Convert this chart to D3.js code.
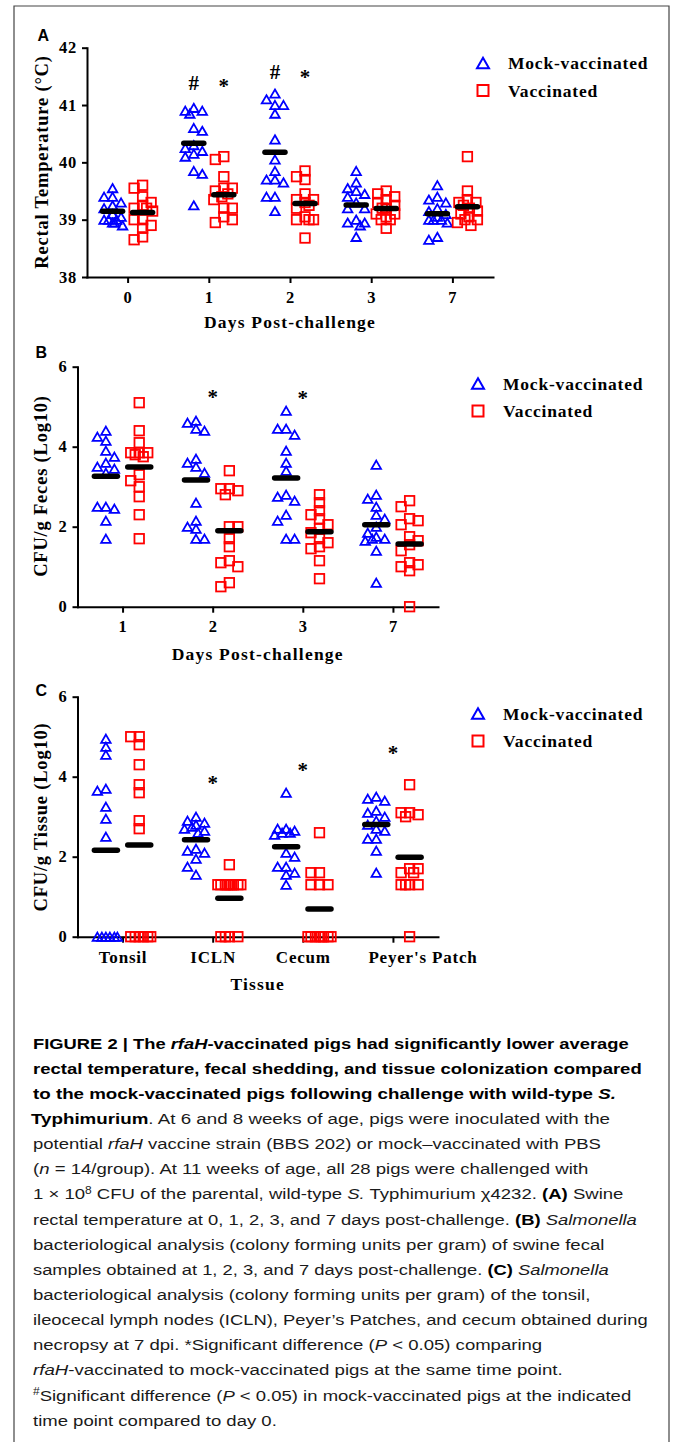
<!DOCTYPE html>
<html>
<head>
<meta charset="utf-8">
<script src="https://cdn.jsdelivr.net/npm/d3@7"></script>
<style>
  body { margin: 0; background: #fff; }
  svg { display: block; }
</style>
</head>
<body>
<svg id="fig" width="673" height="1442"></svg>
<script>
// ============ 数据 ============
// A: rectal temperature (°C), 14 pigs per group
const daysA = ['0', '1', '2', '3', '7'];
const tempTicks = [38, 39, 40, 41, 42];
const tempMock = [
  [39.55, 39.4, 39.4, 39.3, 39.25, 39.2, 39.1, 39.05, 39.0, 39.0, 38.95, 38.95, 38.9, 39.0],
  [40.95, 40.9, 40.9, 40.85, 40.55, 40.6, 40.3, 40.25, 40.2, 40.15, 40.1, 39.85, 39.8, 39.25],
  [41.2, 41.1, 41.0, 41.0, 40.85, 40.4, 40.05, 39.85, 39.7, 39.65, 39.7, 39.4, 39.4, 39.15],
  [39.85, 39.65, 39.55, 39.5, 39.45, 39.4, 39.3, 39.2, 39.2, 39.0, 38.95, 38.9, 38.95, 38.7],
  [39.6, 39.4, 39.35, 39.3, 39.2, 39.15, 39.1, 39.05, 39.0, 39.0, 39.0, 38.95, 38.7, 38.65]
];
const tempVacc = [
  [39.6, 39.55, 39.4, 39.3, 39.25, 39.2, 39.2, 39.15, 39.0, 39.0, 38.9, 38.85, 38.7, 38.65],
  [40.1, 40.05, 39.75, 39.55, 39.55, 39.5, 39.45, 39.4, 39.35, 39.2, 39.2, 39.05, 39.0, 38.95],
  [39.85, 39.75, 39.7, 39.45, 39.35, 39.35, 39.3, 39.25, 39.2, 39.0, 39.0, 39.0, 39.05, 38.68],
  [39.5, 39.45, 39.4, 39.35, 39.3, 39.25, 39.2, 39.2, 39.1, 39.1, 39.05, 39.0, 39.0, 38.85],
  [40.1, 39.5, 39.35, 39.3, 39.3, 39.25, 39.2, 39.15, 39.1, 39.05, 39.0, 39.0, 38.95, 38.9]
];
const sigA = [
  { cat: '1', side: -1, mark: '#', v: 41.39 },
  { cat: '1', side: 1, mark: '*', v: 41.39 },
  { cat: '2', side: -1, mark: '#', v: 41.58 },
  { cat: '2', side: 1, mark: '*', v: 41.55 }
];

// B: CFU/g feces (log10)
const daysB = ['1', '2', '3', '7'];
const logTicks = [0, 2, 4, 6];
const fecesMock = [
  [4.4, 4.25, 4.15, 3.9, 3.75, 3.6, 3.5, 3.35, 3.45, 2.5, 2.45, 2.5, 2.15, 1.7],
  [4.65, 4.6, 4.45, 4.4, 3.6, 3.7, 3.5, 3.35, 2.6, 2.15, 2.0, 1.95, 1.7, 1.7],
  [4.9, 4.45, 4.45, 4.3, 3.9, 3.6, 3.4, 2.8, 2.65, 2.75, 2.3, 2.15, 1.7, 1.7],
  [3.55, 2.8, 2.7, 2.5, 2.3, 2.2, 2.0, 1.85, 1.75, 1.7, 1.7, 1.65, 1.4, 0.6]
];
const fecesVacc = [
  [5.1, 4.4, 4.1, 3.85, 3.85, 3.85, 3.75, 3.8, 3.3, 3.15, 3.0, 2.75, 2.3, 1.7],
  [3.4, 2.95, 2.95, 2.8, 2.9, 2.0, 2.0, 1.7, 1.5, 1.1, 1.0, 1.15, 0.6, 0.5],
  [2.8, 2.6, 2.4, 2.3, 2.2, 2.05, 1.95, 1.85, 1.7, 1.6, 1.5, 1.45, 1.15, 0.7],
  [2.65, 2.5, 2.2, 2.15, 2.05, 1.75, 1.65, 1.55, 1.4, 1.1, 1.05, 1.0, 0.9, 0.0]
];
const sigB = [
  { cat: '2', side: 0, mark: '*', v: 5.33 },
  { cat: '3', side: 0, mark: '*', v: 5.29 }
];

// C: CFU/g tissue (log10)
const tissues = ['Tonsil', 'ICLN', 'Cecum', "Peyer's Patch"];
const tissueMock = [
  [4.95, 4.75, 4.55, 3.7, 3.65, 3.25, 2.95, 2.5, 0, 0, 0, 0, 0, 0],
  [3.0, 2.9, 2.85, 2.8, 2.75, 2.7, 2.65, 2.6, 2.2, 2.15, 2.1, 1.95, 1.75, 1.55],
  [3.6, 2.7, 2.7, 2.65, 2.6, 2.6, 2.55, 2.1, 2.0, 1.75, 1.75, 1.6, 1.55, 1.3],
  [3.5, 3.45, 3.4, 3.15, 3.1, 3.0, 2.9, 2.8, 2.7, 2.65, 2.45, 2.45, 2.15, 1.6]
];
const tissueVacc = [
  [5.0, 5.0, 4.8, 4.3, 3.8, 3.6, 2.9, 2.7, 0, 0, 0, 0, 0, 0],
  [1.8, 1.3, 1.3, 1.3, 1.3, 1.3, 1.3, 1.3, 1.3, 1.3, 0, 0, 0, 0],
  [2.6, 1.6, 1.6, 1.3, 1.3, 1.3, 0, 0, 0, 0, 0, 0, 0, 0],
  [3.8, 3.1, 3.1, 3.05, 3.0, 1.7, 1.7, 1.6, 1.6, 1.3, 1.3, 1.3, 1.3, 0]
];
const sigC = [
  { cat: 'ICLN', side: 0, mark: '*', v: 3.92 },
  { cat: 'Cecum', side: 0, mark: '*', v: 4.25 },
  { cat: "Peyer's Patch", side: 0, mark: '*', v: 4.67 }
];

const seriesNames = ['Mock-vaccinated', 'Vaccinated'];

// 图注文字（每行若干片段：[文字, 样式]）
const captionLines = [
  [['FIGURE 2 | The ', 'b'], ['rfaH', 'bi'], ['-vaccinated pigs had significantly lower average', 'b']],
  [['rectal temperature, fecal shedding, and tissue colonization compared', 'b']],
  [['to the mock-vaccinated pigs following challenge with wild-type ', 'b'], ['S.', 'bi']],
  [['Typhimurium', 'b'], ['. At 6 and 8 weeks of age, pigs were inoculated with the', '']],
  [['potential ', ''], ['rfaH', 'i'], [' vaccine strain (BBS 202) or mock\u2013vaccinated with PBS', '']],
  [['(', ''], ['n', 'i'], [' = 14/group). At 11 weeks of age, all 28 pigs were challenged with', '']],
  [['1 \u00d7 10', ''], ['8', 'sup'], [' CFU of the parental, wild-type ', ''], ['S.', 'i'], [' Typhimurium \u03c74232. ', ''], ['(A)', 'b'], [' Swine', '']],
  [['rectal temperature at 0, 1, 2, 3, and 7 days post-challenge. ', ''], ['(B)', 'b'], [' ', ''], ['Salmonella', 'i']],
  [['bacteriological analysis (colony forming units per gram) of swine fecal', '']],
  [['samples obtained at 1, 2, 3, and 7 days post-challenge. ', ''], ['(C)', 'b'], [' ', ''], ['Salmonella', 'i']],
  [['bacteriological analysis (colony forming units per gram) of the tonsil,', '']],
  [['ileocecal lymph nodes (ICLN), Peyer\u2019s Patches, and cecum obtained during', '']],
  [['necropsy at 7 dpi. *Significant difference (', ''], ['P', 'i'], [' < 0.05) comparing', '']],
  [['rfaH', 'i'], ['-vaccinated to mock-vaccinated pigs at the same time point.', '']],
  [['#', 'sup'], ['Significant difference (', ''], ['P', 'i'], [' < 0.05) in mock-vaccinated pigs at the indicated', '']],
  [['time point compared to day 0.', '']]
];

// ============ 样式常量 ============
const BLUE = '#0000ff';
const RED = '#ff0000';
const SERIF = "'Liberation Serif', 'Times New Roman', serif";
const SANS = "'Liberation Sans', Arial, sans-serif";

const svg = d3.select('#fig');
svg.append('rect').attr('width', 673).attr('height', 1442).attr('fill', '#fff');

// 外框
svg.append('path')
  .attr('d', 'M14,1442V6H669V1442')
  .attr('fill', 'none')
  .attr('stroke', '#444')
  .attr('stroke-width', 1.2);

// ============ 标记符号 ============
function triPath(s) {
  const h = s * 0.866;
  return `M0,${-h / 2}L${s / 2},${h / 2}L${-s / 2},${h / 2}Z`;
}
function drawMarker(g, kind, cx, cy, s) {
  if (kind === 0) {
    g.append('path')
      .attr('d', triPath(s))
      .attr('transform', `translate(${cx},${cy})`)
      .attr('fill', 'none').attr('stroke', BLUE).attr('stroke-width', 1.8)
      .attr('stroke-linejoin', 'miter');
  } else {
    g.append('rect')
      .attr('x', cx - s / 2).attr('y', cy - s / 2)
      .attr('width', s).attr('height', s)
      .attr('fill', 'none').attr('stroke', RED).attr('stroke-width', 1.8);
  }
}

// 简单的蜂群布局：按像素位置把重叠点横向错开
function swarm(ys, maxOff) {
  const GX = 8.5, GY = 8;
  const placed = [];
  const res = new Array(ys.length);
  const order = d3.range(ys.length).sort((a, b) => ys[a] - ys[b]);
  order.forEach(i => {
    const yv = ys[i];
    const neg = placed.filter(q => q.x < 0).length;
    const pos = placed.filter(q => q.x > 0).length;
    const sides = neg <= pos ? [-1, 1] : [1, -1];
    let best = 0, bestScore = -Infinity, done = false;
    for (let k = 0; k <= maxOff * 2 && !done; k++) {
      const m = k / 2;
      const cands = m === 0 ? [0] : sides.map(s => s * m);
      for (const dx of cands) {
        let minD = Infinity;
        placed.forEach(q => {
          if (Math.abs(q.y - yv) >= GY) return;
          minD = Math.min(minD, Math.abs(q.x - dx));
        });
        if (minD >= GX) { best = dx; done = true; break; }
        if (minD > bestScore) { bestScore = minD; best = dx; }
      }
    }
    res[i] = best;
    placed.push({ x: best, y: yv });
  });
  return res;
}

// ============ 面板绘制 ============
function drawPanel(p) {
  const g = svg.append('g');
  const x = d3.scalePoint().domain(p.cats).range([p.x0, p.x1]).padding(0.5);
  const y = d3.scaleLinear().domain(p.domain).range([p.yBottom, p.yTop]);
  const off = x.step() * 0.185;

  // 坐标轴
  const ya = g.append('g')
    .attr('transform', `translate(${p.x0},0)`)
    .call(d3.axisLeft(y).tickValues(p.ticks).tickFormat(d3.format('d'))
      .tickSize(5).tickSizeOuter(0).tickPadding(5));
  const xa = g.append('g')
    .attr('transform', `translate(0,${p.yBottom})`)
    .call(d3.axisBottom(x).tickSize(6).tickSizeOuter(0));

  [ya, xa].forEach(a => {
    a.select('.domain').attr('stroke', '#000').attr('stroke-width', 2).attr('stroke-linecap', 'square');
    a.selectAll('.tick line').attr('stroke', '#000').attr('stroke-width', 2);
    a.selectAll('.tick text')
      .attr('fill', '#000')
      .style('font-family', SERIF)
      .style('font-weight', 'bold')
      .style('font-size', '16.5px')
      .attr('letter-spacing', 0.8);
  });
  xa.selectAll('.tick text')
    .attr('y', p.tickLabelY).attr('dy', 0)
    .style('font-size', p.xTickSize + 'px');
  if (p.lastLabelShift) {
    xa.selectAll('.tick text').filter((d, i, n) => i === n.length - 1)
      .attr('text-anchor', 'start').attr('x', p.lastLabelShift);
  }

  // 散点
  [p.mock, p.vacc].forEach((series, k) => {
    const mg = g.append('g');
    series.forEach((vals, i) => {
      const cx = x(p.cats[i]) + (k === 0 ? -off : off);
      const ys = vals.map(v => y(v));
      const dxs = swarm(ys, p.spread);
      ys.forEach((yy, j) => drawMarker(mg, k, cx + dxs[j], yy, 9.5));
    });
  });

  // 均值横线
  [p.mock, p.vacc].forEach((series, k) => {
    series.forEach((vals, i) => {
      const cx = x(p.cats[i]) + (k === 0 ? -off : off);
      const my = y(d3.mean(vals));
      g.append('line')
        .attr('x1', cx - p.barLen / 2).attr('x2', cx + p.barLen / 2)
        .attr('y1', my).attr('y2', my)
        .attr('stroke', '#000').attr('stroke-width', 5.5).attr('stroke-linecap', 'round');
    });
  });

  // 显著性标记
  p.sig.forEach(s => {
    const fs = 21;
    const cx = x(s.cat) + s.side * off;
    const k = s.mark === '*' ? 0.49 : 0.34;
    g.append('text')
      .attr('x', cx).attr('y', y(s.v) + k * fs)
      .attr('text-anchor', 'middle')
      .style('font-family', SERIF).style('font-weight', 'bold').style('font-size', fs + 'px')
      .text(s.mark);
  });

  // 轴标题
  g.append('text')
    .attr('x', (p.x0 + p.x1) / 2).attr('y', p.xTitleY)
    .attr('text-anchor', 'middle')
    .attr('letter-spacing', 1.2)
    .style('font-family', SERIF).style('font-weight', 'bold').style('font-size', '17.5px')
    .text(p.xTitle);
  g.append('text')
    .attr('transform', `translate(${p.yTitleX},${p.yTitleCy}) rotate(-90)`)
    .attr('text-anchor', 'middle')
    .attr('letter-spacing', 0.8)
    .style('font-family', SERIF).style('font-weight', 'bold').style('font-size', '18.5px')
    .text(p.yTitle);

  // 面板字母
  g.append('text')
    .attr('x', p.letterX).attr('y', p.letterY)
    .style('font-family', SANS).style('font-weight', 'bold').style('font-size', '16px')
    .text(p.letter);

  // 图例
  seriesNames.forEach((name, k) => {
    const ly = p.legendY + k * 27.5;
    const lg = g.append('g');
    if (k === 0) {
      lg.append('path').attr('d', triPath(12)).attr('transform', `translate(${p.legendX},${ly})`)
        .attr('fill', 'none').attr('stroke', BLUE).attr('stroke-width', 2);
    } else {
      lg.append('rect').attr('x', p.legendX - 5.5).attr('y', ly - 5.5).attr('width', 11).attr('height', 11)
        .attr('fill', 'none').attr('stroke', RED).attr('stroke-width', 2);
    }
    lg.append('text')
      .attr('x', p.legendX + 25).attr('y', ly + 6)
      .attr('letter-spacing', 0.8)
      .style('font-family', SERIF).style('font-weight', 'bold').style('font-size', '17.5px')
      .text(name);
  });
}

drawPanel({
  letter: 'A', letterX: 37.5, letterY: 40.5,
  cats: daysA, mock: tempMock, vacc: tempVacc, sig: sigA,
  domain: [38, 42], ticks: tempTicks,
  x0: 87, x1: 493, yBottom: 277, yTop: 47.7,
  tickLabelY: 25.5, xTickSize: 16.5,
  spread: 10, barLen: 20,
  xTitle: 'Days Post-challenge', xTitleY: 327.5,
  yTitle: 'Rectal Temperature (\u00b0C)', yTitleX: 48, yTitleCy: 162,
  legendX: 483, legendY: 63
});

drawPanel({
  letter: 'B', letterX: 35.5, letterY: 358,
  cats: daysB, mock: fecesMock, vacc: fecesVacc, sig: sigB,
  domain: [0, 6], ticks: logTicks,
  x0: 77.5, x1: 438, yBottom: 606.7, yTop: 366.7,
  tickLabelY: 25.5, xTickSize: 16.5,
  spread: 11, barLen: 23,
  xTitle: 'Days Post-challenge', xTitleY: 660,
  yTitle: 'CFU/g Feces (Log10)', yTitleX: 46.5, yTitleCy: 486,
  legendX: 478, legendY: 383.5
});

drawPanel({
  letter: 'C', letterX: 35.5, letterY: 696,
  cats: tissues, mock: tissueMock, vacc: tissueVacc, sig: sigC,
  domain: [0, 6], ticks: logTicks,
  x0: 77.5, x1: 438, yBottom: 936.7, yTop: 696.7,
  tickLabelY: 26, xTickSize: 17, lastLabelShift: -25,
  spread: 11.5, barLen: 23,
  xTitle: 'Tissue', xTitleY: 990,
  yTitle: 'CFU/g Tissue (Log10)', yTitleX: 46.5, yTitleCy: 817,
  legendX: 478, legendY: 713.5
});

// ============ 图注 ============
const capX = [33, 33, 33, 31, 33, 33, 33, 33, 33, 33, 33, 33, 33, 33, 33, 33];
const capW = [596, 609, 583.5, 580, 568.5, 555.6, 591, 604, 572, 576, 558, 615, 509.6, 530, 598.6, 244];
const capTop = 1048.5, capStep = 25.15;

captionLines.forEach((segs, i) => {
  const t = svg.append('text')
    .attr('x', 0).attr('y', 0)
    .attr('fill', '#1a1a1a')
    .style('font-family', SANS).style('font-size', '15.5px');
  segs.forEach(([txt, st]) => {
    const ts = t.append('tspan').text(txt);
    if (st.includes('b')) ts.style('font-weight', 'bold').attr('fill', '#000');
    if (st.includes('i')) ts.style('font-style', 'italic');
    if (st === 'sup') ts.style('font-size', '10px').attr('baseline-shift', 'super');
  });
  const w = t.node().getComputedTextLength();
  t.attr('transform', `translate(${capX[i]},${capTop + i * capStep}) scale(${capW[i] / w},1)`);
});
</script>
</body>
</html>
